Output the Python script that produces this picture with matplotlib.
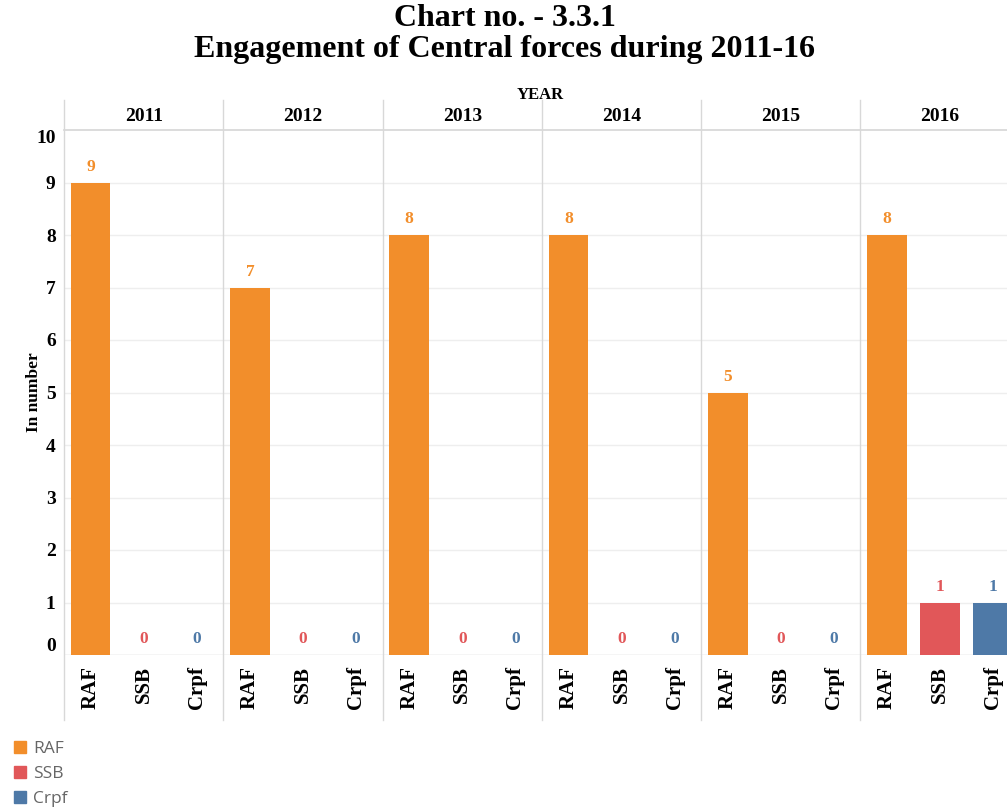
import matplotlib.pyplot as plt
import matplotlib.transforms as mtransforms
from matplotlib.patches import Patch

years = ['2011', '2012', '2013', '2014', '2015', '2016']
forces = ['RAF', 'SSB', 'Crpf']
raf = [9, 7, 8, 8, 5, 8]
ssb = [0, 0, 0, 0, 0, 1]
crpf = [0, 0, 0, 0, 0, 1]
colors = {'RAF': '#F28E2B', 'SSB': '#E15759', 'Crpf': '#4E79A7'}

series = {'RAF': raf, 'SSB': ssb, 'Crpf': crpf}
serif = 'Liberation Serif'

fig = plt.figure(figsize=(10.07, 8.07), dpi=100)
ax = fig.add_axes([64 / 1007, 152 / 807, 943 / 1007, 525 / 807])

xs, labels = [], []
for i, yr in enumerate(years):
    for j, f in enumerate(forces):
        x = 3 * i + j
        v = series[f][i]
        xs.append(x)
        labels.append(f)
        ax.bar(x, v, width=0.75, color=colors[f], zorder=3)
        ax.text(x, v + 0.15, str(v), ha='center', va='bottom', color=colors[f],
                fontsize=12.5, family=serif, fontweight='bold', zorder=4)

ax.set_xlim(-0.5, 17.26)
ax.set_ylim(0, 10)
ax.set_xticks(xs)
ax.set_xticklabels(labels, rotation=90, family=serif, fontweight='bold', fontsize=15, va='top')
ax.set_yticks(range(11))
ax.set_yticklabels([str(v) for v in range(11)], family=serif, fontweight='bold', fontsize=14)
ax.tick_params(length=0, pad=8)
ax.tick_params(axis='y', pad=6)
ylabs = ax.get_yticklabels()
ylabs[0].set_va('bottom')
ylabs[-1].set_va('top')

for s in ax.spines.values():
    s.set_visible(False)
for v in range(1, 10):
    ax.axhline(v, color='#eeeeee', linewidth=1, zorder=0)
ax.axhline(0, color='#cfcfcf', linewidth=1, zorder=2)

trans = mtransforms.blended_transform_factory(ax.transData, ax.transAxes)
# header line and year separators
ax.plot([-0.5, 18], [1.0, 1.0], transform=trans, color='#d5d5d5', lw=1.2, clip_on=False)
for i in range(len(years)):
    ax.plot([3 * i - 0.5] * 2, [1.057, -0.124], transform=trans, color='#d8d8d8', lw=1, clip_on=False)
    ax.text(3 * i + 1, 1.026, years[i], transform=trans, ha='center', va='center',
            family=serif, fontweight='bold', fontsize=14)

fig.text(540 / 1007, 1 - 95 / 807, 'YEAR', ha='center', va='center', family=serif,
         fontweight='bold', fontsize=12)
fig.text(505 / 1007, 1 - 19 / 807, 'Chart no. - 3.3.1', ha='center', va='center',
         family=serif, fontweight='bold', fontsize=23)
fig.text(505 / 1007, 1 - 49 / 807, 'Engagement of Central forces during 2011-16', ha='center',
         va='center', family=serif, fontweight='bold', fontsize=23)
ax.set_ylabel('In number', family=serif, fontweight='bold', fontsize=12.5, labelpad=-4)

handles = [Patch(color=colors[f], label=f) for f in forces]
leg = fig.legend(handles=handles, loc='upper left', bbox_to_anchor=(0.002, 1 - 729 / 807),
                 frameon=False, handlelength=0.7, handleheight=0.7, handletextpad=0.4,
                 labelspacing=0.5, prop={'family': 'Open Sans', 'size': 12.5}, borderaxespad=0.3)
for t in leg.get_texts():
    t.set_color('#666666')

fig.savefig('out.png', dpi=100)
